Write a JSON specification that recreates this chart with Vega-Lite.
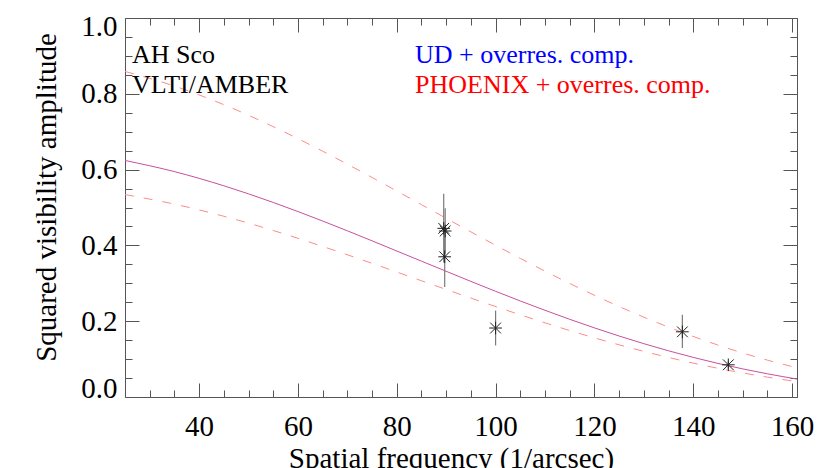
{
  "$schema": "https://vega.github.io/schema/vega-lite/v6.json",
  "width": 672,
  "height": 379,
  "autosize": {"type": "none"},
  "padding": {"left": 125, "top": 18, "right": 33, "bottom": 71},
  "background": "white",
  "config": {"view": {"stroke": null}, "font": "Liberation Serif"},
  "datasets": {
    "curves": [
      {"u": 25, "v": 0.6241, "curve": "fit"},
      {"u": 35, "v": 0.5947, "curve": "fit"},
      {"u": 45, "v": 0.5573, "curve": "fit"},
      {"u": 55, "v": 0.5133, "curve": "fit"},
      {"u": 65, "v": 0.4643, "curve": "fit"},
      {"u": 75, "v": 0.4121, "curve": "fit"},
      {"u": 85, "v": 0.3584, "curve": "fit"},
      {"u": 95, "v": 0.3050, "curve": "fit"},
      {"u": 105, "v": 0.2534, "curve": "fit"},
      {"u": 115, "v": 0.2050, "curve": "fit"},
      {"u": 125, "v": 0.1609, "curve": "fit"},
      {"u": 135, "v": 0.1219, "curve": "fit"},
      {"u": 145, "v": 0.0886, "curve": "fit"},
      {"u": 155, "v": 0.0612, "curve": "fit"},
      {"u": 161, "v": 0.0474, "curve": "fit"},
      {"u": 25, "v": 0.8590, "curve": "upper"},
      {"u": 35, "v": 0.8204, "curve": "upper"},
      {"u": 45, "v": 0.7713, "curve": "upper"},
      {"u": 55, "v": 0.7133, "curve": "upper"},
      {"u": 65, "v": 0.6486, "curve": "upper"},
      {"u": 75, "v": 0.5792, "curve": "upper"},
      {"u": 85, "v": 0.5075, "curve": "upper"},
      {"u": 95, "v": 0.4357, "curve": "upper"},
      {"u": 105, "v": 0.3658, "curve": "upper"},
      {"u": 115, "v": 0.2996, "curve": "upper"},
      {"u": 125, "v": 0.2387, "curve": "upper"},
      {"u": 135, "v": 0.1843, "curve": "upper"},
      {"u": 145, "v": 0.1370, "curve": "upper"},
      {"u": 155, "v": 0.0973, "curve": "upper"},
      {"u": 161, "v": 0.0771, "curve": "upper"},
      {"u": 25, "v": 0.5341, "curve": "lower"},
      {"u": 35, "v": 0.5089, "curve": "lower"},
      {"u": 45, "v": 0.4769, "curve": "lower"},
      {"u": 55, "v": 0.4393, "curve": "lower"},
      {"u": 65, "v": 0.3973, "curve": "lower"},
      {"u": 75, "v": 0.3527, "curve": "lower"},
      {"u": 85, "v": 0.3067, "curve": "lower"},
      {"u": 95, "v": 0.2610, "curve": "lower"},
      {"u": 105, "v": 0.2169, "curve": "lower"},
      {"u": 115, "v": 0.1754, "curve": "lower"},
      {"u": 125, "v": 0.1377, "curve": "lower"},
      {"u": 135, "v": 0.1043, "curve": "lower"},
      {"u": 145, "v": 0.0758, "curve": "lower"},
      {"u": 155, "v": 0.0524, "curve": "lower"},
      {"u": 161, "v": 0.0406, "curve": "lower"}
    ],
    "obs": [
      {"u": 89.5, "v": 0.445, "lo": 0.355, "hi": 0.536},
      {"u": 89.8, "v": 0.438, "lo": 0.378, "hi": 0.498},
      {"u": 89.7, "v": 0.370, "lo": 0.290, "hi": 0.450},
      {"u": 100.0, "v": 0.182, "lo": 0.136, "hi": 0.228},
      {"u": 137.8, "v": 0.172, "lo": 0.129, "hi": 0.217},
      {"u": 147.1, "v": 0.085, "lo": 0.075, "hi": 0.095}
    ],
    "notes": [
      {"u": 26.4, "v": 0.8805, "label": "AH Sco", "grp": "target"},
      {"u": 26.4, "v": 0.8013, "label": "VLTI/AMBER", "grp": "target"},
      {"u": 83.7, "v": 0.8805, "label": "UD + overres. comp.", "grp": "UD"},
      {"u": 83.7, "v": 0.8013, "label": "PHOENIX + overres. comp.", "grp": "PHOENIX"}
    ]
  },
  "resolve": {"axis": {"x": "independent", "y": "independent"}},
  "layer": [
    {
      "data": {"name": "curves"},
      "transform": [{"filter": "datum.curve == 'fit'"}],
      "mark": {"type": "line", "color": "#c8509c", "strokeWidth": 1, "clip": true, "interpolate": "monotone"},
      "encoding": {
        "x": {
          "field": "u", "type": "quantitative",
          "scale": {"domain": [25, 161], "nice": false, "zero": false},
          "axis": {
            "orient": "bottom",
            "values": [30,35,40,45,50,55,60,65,70,75,80,85,90,95,100,105,110,115,120,125,130,135,140,145,150,155,160],
            "labelExpr": "datum.value % 20 == 0 ? datum.label : ''",
            "labelOverlap": false,
            "labelFlush": false,
            "labelFont": "Liberation Serif",
            "labelFontSize": 29,
            "labelColor": "black",
            "labelPadding": 29,
            "tickSize": {"condition": {"test": "datum.value % 20 == 0", "value": -14}, "value": -7},
            "tickColor": "#555",
            "domainColor": "#555",
            "grid": false,
            "title": "Spatial frequency (1/arcsec)",
            "titleFont": "Liberation Serif",
            "titleFontSize": 29,
            "titleFontWeight": "normal",
            "titleColor": "black",
            "titleBaseline": "alphabetic",
            "titleX": 326,
            "titleY": 70
          }
        },
        "y": {
          "field": "v", "type": "quantitative",
          "scale": {"domain": [0, 1], "nice": false},
          "axis": {
            "orient": "left",
            "values": [0,0.05,0.1,0.15,0.2,0.25,0.3,0.35,0.4,0.45,0.5,0.55,0.6,0.65,0.7,0.75,0.8,0.85,0.9,0.95,1.0],
            "labelExpr": "round(datum.value*20) % 4 == 0 ? format(datum.value, '.1f') : ''",
            "labelOverlap": false,
            "labelFlush": true,
            "labelFlushOffset": 6,
            "labelFont": "Liberation Serif",
            "labelFontSize": 29,
            "labelColor": "black",
            "labelPadding": 22,
            "tickSize": {"condition": {"test": "round(datum.value*20) % 4 == 0", "value": -14}, "value": -7},
            "tickColor": "#555",
            "domainColor": "#555",
            "grid": false,
            "title": "Squared visibility amplitude",
            "titleFont": "Liberation Serif",
            "titleFontSize": 29,
            "titleFontWeight": "normal",
            "titleColor": "black",
            "titleBaseline": "alphabetic",
            "titleAngle": -90,
            "titleX": -70,
            "titleY": 179
          }
        }
      }
    },
    {
      "data": {"name": "curves"},
      "transform": [{"filter": "datum.curve == 'upper'"}],
      "mark": {"type": "line", "color": "#ff8a8a", "strokeWidth": 1, "strokeDash": [9, 10], "clip": true, "interpolate": "monotone"},
      "encoding": {
        "x": {
          "field": "u", "type": "quantitative",
          "axis": {
            "orient": "top",
            "values": [30,35,40,45,50,55,60,65,70,75,80,85,90,95,100,105,110,115,120,125,130,135,140,145,150,155,160],
            "labels": false,
            "tickSize": {"condition": {"test": "datum.value % 20 == 0", "value": -14}, "value": -7},
            "tickColor": "#555",
            "domainColor": "#555",
            "grid": false,
            "title": null
          }
        },
        "y": {
          "field": "v", "type": "quantitative",
          "axis": {
            "orient": "right",
            "values": [0,0.05,0.1,0.15,0.2,0.25,0.3,0.35,0.4,0.45,0.5,0.55,0.6,0.65,0.7,0.75,0.8,0.85,0.9,0.95,1.0],
            "labels": false,
            "tickSize": {"condition": {"test": "round(datum.value*20) % 4 == 0", "value": -14}, "value": -7},
            "tickColor": "#555",
            "domainColor": "#555",
            "grid": false,
            "title": null
          }
        }
      }
    },
    {
      "data": {"name": "curves"},
      "transform": [{"filter": "datum.curve == 'lower'"}],
      "mark": {"type": "line", "color": "#ff8a8a", "strokeWidth": 1, "strokeDash": [9, 10], "clip": true, "interpolate": "monotone"},
      "encoding": {
        "x": {"field": "u", "type": "quantitative", "axis": null},
        "y": {"field": "v", "type": "quantitative", "axis": null}
      }
    },
    {
      "data": {"name": "obs"},
      "mark": {"type": "rule", "color": "#7a7a7a", "strokeWidth": 1.2},
      "encoding": {
        "x": {"field": "u", "type": "quantitative", "axis": null},
        "y": {"field": "lo", "type": "quantitative", "axis": null},
        "y2": {"field": "hi"}
      }
    },
    {
      "data": {"name": "obs"},
      "mark": {"type": "point", "shape": "M-1,0L1,0M0,-1L0,1M-0.85,-0.85L0.85,0.85M-0.85,0.85L0.85,-0.85", "size": 160, "filled": false, "stroke": "#222", "strokeWidth": 1, "opacity": 1},
      "encoding": {
        "x": {"field": "u", "type": "quantitative", "axis": null},
        "y": {"field": "v", "type": "quantitative", "axis": null}
      }
    },
    {
      "data": {"name": "notes"},
      "mark": {"type": "text", "align": "left", "baseline": "alphabetic", "font": "Liberation Serif", "fontSize": 26},
      "encoding": {
        "x": {"field": "u", "type": "quantitative", "axis": null},
        "y": {"field": "v", "type": "quantitative", "axis": null},
        "text": {"field": "label"},
        "color": {"field": "grp", "type": "nominal", "scale": {"domain": ["target", "UD", "PHOENIX"], "range": ["black", "blue", "red"]}, "legend": null}
      }
    }
  ]
}
